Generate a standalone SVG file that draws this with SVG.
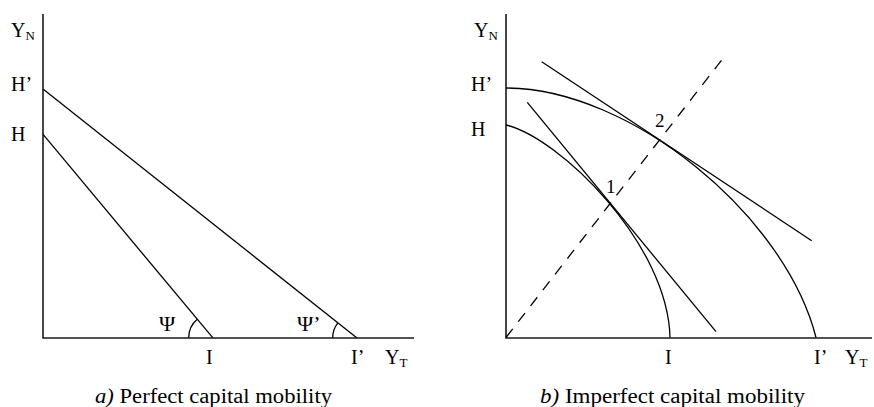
<svg xmlns="http://www.w3.org/2000/svg" width="874" height="407" viewBox="0 0 874 407">
<style>
  .ax { stroke:#1a1a1a; stroke-width:1.6; fill:none; }
  .ln { stroke:#000; stroke-width:1.3; fill:none; }
  .ds { stroke:#000; stroke-width:1.3; fill:none; stroke-dasharray:11 9; }
  text { font-family:"Liberation Serif","Times New Roman",serif; fill:#000; }
  .lb { font-size:20px; }
  .sb { font-size:13px; }
  .psi { font-size:22px; }
  .cap { font-size:20px; }
  .num { font-size:19px; }
</style>
<rect width="874" height="407" fill="#fff"/>

<g id="panel-a">
  <g id="axes-a">
    <polyline class="ax" points="43,14 43,338 414,338"/>
  </g>
  <g id="lines-a">
    <line class="ln" x1="43.3" y1="134.7" x2="212.7" y2="337.7"/>
    <line class="ln" x1="43.3" y1="89.3" x2="356.7" y2="337.7"/>
    <path class="ln" d="M188.7,337.7 A24,24 0 0 1 197.3,319.3"/>
    <path class="ln" d="M332.7,337.7 A24,24 0 0 1 337.9,322.8"/>
  </g>
  <g id="labels-a">
    <text class="lb" x="11" y="37">Y<tspan class="sb" dy="3">N</tspan></text>
    <text class="lb" x="11" y="91">H’</text>
    <text class="lb" x="11" y="141">H</text>
    <text class="psi" x="159" y="331">Ψ</text>
    <text class="psi" x="297" y="331">Ψ’</text>
    <text class="lb" x="206" y="364">I</text>
    <text class="lb" x="351" y="364">I’</text>
    <text class="lb" x="385" y="364">Y<tspan class="sb" dy="3">T</tspan></text>
    <text class="cap" x="95" y="403" textLength="237" lengthAdjust="spacingAndGlyphs"><tspan font-style="italic">a)</tspan> Perfect capital mobility</text>
  </g>
</g>

<g id="panel-b">
  <g id="axes-b">
    <polyline class="ax" points="506,14 506,338 872,338"/>
  </g>
  <g id="connectors">
    <path id="curve-HI" class="ln" d="M506,125 C560,138 668,244 670,337.5"/>
    <path id="curve-HpIp" class="ln" d="M506,88 C630,88 785,215 816,337.5"/>
    <line id="tangent-1" class="ln" x1="527.3" y1="102.3" x2="716" y2="331.7"/>
    <line id="tangent-2" class="ln" x1="541.7" y1="61.7" x2="811.7" y2="240.7"/>
    <line id="ray" class="ds" x1="506" y1="337.5" x2="721.7" y2="60"/>
  </g>
  <g id="labels-b">
    <text class="lb" x="474" y="37">Y<tspan class="sb" dy="3">N</tspan></text>
    <text class="lb" x="471" y="91">H’</text>
    <text class="lb" x="471" y="136">H</text>
    <text class="num" x="655" y="127">2</text>
    <text class="num" x="606" y="193">1</text>
    <text class="lb" x="665" y="364">I</text>
    <text class="lb" x="814" y="364">I’</text>
    <text class="lb" x="845" y="364">Y<tspan class="sb" dy="3">T</tspan></text>
    <text class="cap" x="540" y="403" textLength="265" lengthAdjust="spacingAndGlyphs"><tspan font-style="italic">b)</tspan> Imperfect capital mobility</text>
  </g>
</g>
</svg>
